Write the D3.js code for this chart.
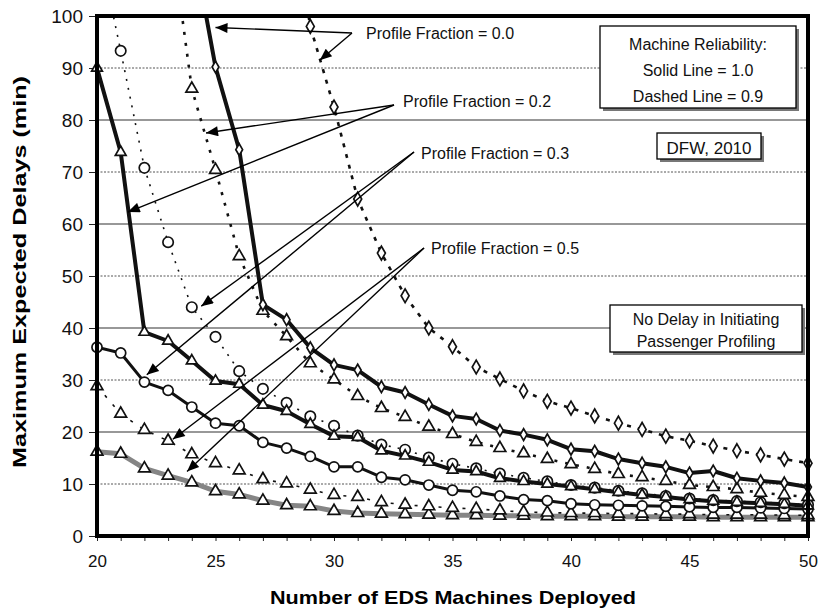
<!DOCTYPE html>
<html>
<head>
<meta charset="utf-8">
<script src="https://cdn.jsdelivr.net/npm/d3@7"></script>
<style>
  body { margin: 0; background: #fff; }
  svg { display: block; font-family: "Liberation Sans", Arial, sans-serif; }
</style>
</head>
<body>
<div id="chart"></div>
<script>
// Machines deployed (x categories)
var machines = [20,21,22,23,24,25,26,27,28,29,30,31,32,33,34,35,36,37,38,39,40,41,42,43,44,45,46,47,48,49,50];

// Max expected delays (min); null = not plotted, >100 runs off the top
var pf00Solid  = [null,null,null,null,115,90.2,74.3,44.5,41.6,36.2,32.9,31.9,28.7,27.6,25.3,23.1,22.5,20.3,19.5,18.5,16.7,16.3,14.8,14.0,13.3,12.1,12.5,11.1,10.6,10.2,9.4];
var pf00Dashed = [null,null,null,null,null,null,null,null,125,98,82.5,64.8,54.4,46.2,40.0,36.4,32.5,30.2,27.9,25.9,24.6,23.1,21.7,20.5,19.2,18.3,17.3,16.4,15.6,14.8,14.0];
var pf02Solid  = [90,73.8,39.2,37.5,33.7,29.8,29.2,25.2,24.0,21.5,19.2,19.0,16.4,15.4,14.2,12.7,12.4,11.1,10.5,10.0,9.5,9.0,8.4,7.9,7.5,7.0,6.7,6.5,6.3,6.1,5.8];
var pf02Dashed = [null,null,null,120,86,70.4,53.8,43.3,38.4,33.2,30.1,26.9,24.6,22.9,21.0,19.6,18.1,16.9,15.9,14.8,13.8,12.9,11.9,11.3,10.6,9.8,9.4,9.0,8.3,7.9,7.5];
var pf03Solid  = [36.3,35.2,29.6,28.0,24.8,21.7,21.2,18.0,16.9,15.3,13.3,13.3,11.3,10.8,9.8,8.8,8.5,7.7,7.0,6.8,6.2,6.0,5.9,5.8,5.7,5.6,5.5,5.5,5.4,5.3,5.2];
var pf03Dashed = [115,93.3,70.8,56.5,44.0,38.3,31.7,28.3,25.6,23.0,21.2,19.3,17.6,16.6,15.1,13.9,13.0,12.0,11.2,10.5,9.8,9.3,8.7,8.2,7.7,7.2,6.9,6.7,6.5,6.3,6.0];
var pf05Solid  = [16.2,15.8,13.0,11.6,10.3,8.6,8.0,6.8,5.9,5.7,4.8,4.4,4.3,4.2,4.1,4.0,4.0,3.9,3.9,3.8,3.8,3.8,3.7,3.7,3.7,3.7,3.6,3.6,3.6,3.6,3.6];
var pf05Dashed = [28.8,23.5,20.4,18.3,15.7,14.0,12.6,10.9,10.1,8.9,7.9,7.5,6.5,6.0,5.7,5.4,5.2,4.9,4.6,4.5,4.4,4.4,4.3,4.3,4.2,4.2,4.1,4.1,4.1,4.0,4.0];

// Tick labels
var xTicks = [20,25,30,35,40,45,50];
var yTicks = [0,10,20,30,40,50,60,70,80,90,100];

var width = 818, height = 609;
var svg = d3.select('#chart').append('svg')
            .attr('width', width)
            .attr('height', height);

var xScale = d3.scaleLinear().domain([20, 50]).range([97, 808]);
var yScale = d3.scaleLinear().domain([0, 100]).range([536, 16]);

// Clip to plot area
svg.append('clipPath').attr('id', 'plot')
   .append('rect')
   .attr('x', xScale(20)).attr('y', yScale(100))
   .attr('width', xScale(50) - xScale(20))
   .attr('height', yScale(0) - yScale(100));

// Gridlines: solid at 20/40/60/80, dotted at odd tens
svg.append('g').selectAll('line')
   .data([10,20,30,40,50,60,70,80,90])
   .enter().append('line')
   .attr('x1', xScale(20)).attr('x2', xScale(50))
   .attr('y1', function(d) { return yScale(d); })
   .attr('y2', function(d) { return yScale(d); })
   .attr('stroke', function(d) { return d % 20 === 0 ? '#333' : '#555'; })
   .attr('stroke-width', function(d) { return d % 20 === 0 ? 1.1 : 1; })
   .attr('stroke-dasharray', function(d) { return d % 20 === 0 ? null : '2,1.5'; });

// Axes
var yAxis = d3.axisLeft(yScale).tickValues(yTicks).tickSize(8).tickPadding(6);
var gy = svg.append('g').attr('transform', 'translate(' + xScale(20) + ',0)').call(yAxis);
gy.select('.domain').remove();
gy.selectAll('text').attr('font-size', 19).attr('fill', '#111').attr('font-family', '"Liberation Sans", Arial, sans-serif');
gy.selectAll('line').attr('stroke', '#222');

var xMinor = d3.axisBottom(xScale).tickValues(machines).tickSize(5).tickFormat('');
var gxm = svg.append('g').attr('transform', 'translate(0,' + yScale(0) + ')').call(xMinor);
gxm.select('.domain').remove();
gxm.selectAll('line').attr('stroke', '#222');

var xAxis = d3.axisBottom(xScale).tickValues(xTicks).tickSize(0).tickPadding(19);
var gx = svg.append('g').attr('transform', 'translate(0,' + yScale(0) + ')').call(xAxis);
gx.select('.domain').remove();
gx.selectAll('text').attr('font-size', 17).attr('fill', '#111').attr('font-family', '"Liberation Sans", Arial, sans-serif');

// Axis titles
svg.append('text')
   .attr('x', 453).attr('y', 604)
   .attr('text-anchor', 'middle')
   .attr('font-size', 19).attr('font-weight', 'bold')
   .attr('textLength', 366).attr('lengthAdjust', 'spacingAndGlyphs')
   .text('Number of EDS Machines Deployed');
svg.append('text')
   .attr('transform', 'translate(26,272) rotate(-90)')
   .attr('text-anchor', 'middle')
   .attr('font-size', 19).attr('font-weight', 'bold')
   .attr('textLength', 392).attr('lengthAdjust', 'spacingAndGlyphs')
   .text('Maximum Expected Delays (min)');

// Series definitions
var series = [
  { values: pf05Solid,  color: '#858585', width: 5,   dash: null,   symbol: d3.symbolTriangle, size: 60 },
  { values: pf05Dashed, color: '#111',    width: 1.6, dash: '3,9',  symbol: d3.symbolTriangle, size: 60 },
  { values: pf03Solid,  color: '#111',    width: 3,   dash: null,   symbol: d3.symbolCircle,   size: 80 },
  { values: pf03Dashed, color: '#111',    width: 1.6, dash: '2,7',  symbol: d3.symbolCircle,   size: 85 },
  { values: pf02Solid,  color: '#111',    width: 4,   dash: null,   symbol: d3.symbolTriangle, size: 50 },
  { values: pf02Dashed, color: '#111',    width: 2.6, dash: '3,8',  symbol: d3.symbolTriangle, size: 60 },
  { values: pf00Solid,  color: '#111',    width: 4,   dash: null,   symbol: d3.symbolDiamond,  size: 40 },
  { values: pf00Dashed, color: '#111',    width: 2.6, dash: '4,7',  symbol: d3.symbolDiamond,  size: 55 }
];

var line = d3.line()
             .defined(function(d) { return d[1] !== null; })
             .x(function(d) { return xScale(d[0]); })
             .y(function(d) { return yScale(d[1]); });

var plot = svg.append('g').attr('clip-path', 'url(#plot)');

series.forEach(function(s) {
  var pts = machines.map(function(m, i) { return [m, s.values[i]]; });
  plot.append('path')
      .datum(pts)
      .attr('d', line)
      .attr('fill', 'none')
      .attr('stroke', s.color)
      .attr('stroke-width', s.width)
      .attr('stroke-dasharray', s.dash)
      .attr('stroke-linejoin', 'round');
  svg.append('g').selectAll('path')
     .data(pts.filter(function(d) { return d[1] !== null && d[1] <= 100; }))
     .enter().append('path')
     .attr('transform', function(d) { return 'translate(' + xScale(d[0]) + ',' + yScale(d[1]) + ')'; })
     .attr('d', d3.symbol().type(s.symbol).size(s.size))
     .attr('fill', '#fff')
     .attr('stroke', '#111')
     .attr('stroke-width', 1.7);
});

// Frame
svg.append('rect')
   .attr('x', xScale(20)).attr('y', yScale(100))
   .attr('width', xScale(50) - xScale(20))
   .attr('height', yScale(0) - yScale(100))
   .attr('fill', 'none')
   .attr('stroke', '#000')
   .attr('stroke-width', 4);

// Arrowhead
svg.append('defs').append('marker')
   .attr('id', 'arrow')
   .attr('viewBox', '0 0 12 10')
   .attr('refX', 12).attr('refY', 5)
   .attr('markerWidth', 14).attr('markerHeight', 10)
   .attr('markerUnits', 'userSpaceOnUse')
   .attr('orient', 'auto')
   .append('path').attr('d', 'M0,0 L12,5 L0,10 Z').attr('fill', '#000');

// Annotations: label, vertex, and arrow targets (in data units)
var annotations = [
  { text: 'Profile Fraction = 0.0', tx: 366, ty: 39, from: [352, 33], to: [[25.0, 97.8], [29.4, 91.5]] },
  { text: 'Profile Fraction = 0.2', tx: 403, ty: 107, from: [394, 105], to: [[24.6, 77.5], [21.3, 62.3]] },
  { text: 'Profile Fraction = 0.3', tx: 421, ty: 159, from: [414, 152], to: [[24.4, 44.2], [22.1, 31.0]] },
  { text: 'Profile Fraction = 0.5', tx: 431, ty: 254, from: [424, 248], to: [[23.2, 18.6], [23.8, 12.4]] }
];
annotations.forEach(function(a) {
  svg.append('text')
     .attr('x', a.tx).attr('y', a.ty)
     .attr('font-size', 16).attr('fill', '#111')
     .text(a.text);
  a.to.forEach(function(t) {
    svg.append('line')
       .attr('x1', a.from[0]).attr('y1', a.from[1])
       .attr('x2', xScale(t[0])).attr('y2', yScale(t[1]))
       .attr('stroke', '#000').attr('stroke-width', 1.4)
       .attr('marker-end', 'url(#arrow)');
  });
});

// Text boxes with drop shadow
function textBox(x, y, w, h, lines, fontSize, lineGap) {
  svg.append('rect').attr('x', x + 3).attr('y', y + 3).attr('width', w).attr('height', h).attr('fill', '#777');
  svg.append('rect').attr('x', x).attr('y', y).attr('width', w).attr('height', h)
     .attr('fill', '#fff').attr('stroke', '#000').attr('stroke-width', 1.3);
  lines.forEach(function(t, i) {
    svg.append('text')
       .attr('x', x + w / 2).attr('y', y + lineGap * (i + 1) - 2)
       .attr('text-anchor', 'middle')
       .attr('font-size', fontSize).attr('fill', '#111')
       .text(t);
  });
}
textBox(600, 26, 196, 82, ['Machine Reliability:', 'Solid Line = 1.0', 'Dashed Line = 0.9'], 16, 26);
textBox(657, 133, 104, 26, ['DFW, 2010'], 17, 23);
textBox(610, 305, 192, 47, ['No Delay in Initiating', 'Passenger Profiling'], 16, 22);
</script>
</body>
</html>
